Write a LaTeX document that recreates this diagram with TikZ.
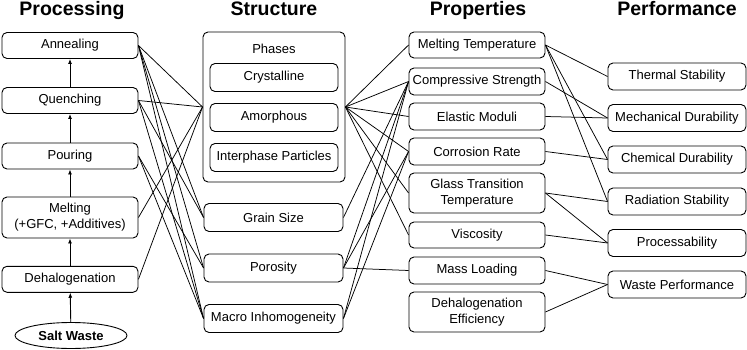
\documentclass[tikz,border=0pt]{standalone}
\usepackage{fontspec}
\setmainfont{Liberation Sans}
\usetikzlibrary{arrows.meta,shapes.geometric}
\begin{document}
\begin{tikzpicture}[x=1pt,y=-1pt,
  box/.style={draw,rounded corners=5pt,line width=0.9pt,inner sep=0pt,align=center,
    font=\fontsize{13}{16}\selectfont},
  hdr/.style={anchor=base,font=\fontsize{19.5}{22}\selectfont\bfseries},
  link/.style={line width=0.75pt},
  up/.style={line width=0.9pt,-{Latex[length=5pt,width=4pt]}}]
\useasboundingbox (0,0) rectangle (747,350);
% headers
\node[hdr] (h1) at (72,15.5) {Processing};
\node[hdr] (h2) at (274,15.5) {Structure};
\node[hdr] (h3) at (478,15.5) {Properties};
\node[hdr] (h4) at (677,15.5) {Performance};
% processing
\tikzset{pc/.style={box,minimum width=136pt,minimum height=26pt}}
\node[pc] (ann) at (70,45.5) {Annealing};
\node[pc] (que) at (70,100.5) {Quenching};
\node[pc] (pou) at (70,156) {Pouring};
\node[pc,minimum height=41pt] (mel) at (70,217.5) {Melting\\(+GFC, +Additives)};
\node[pc] (deh) at (70,279.3) {Dehalogenation};
\node[draw,ellipse,line width=0.9pt,minimum width=112pt,minimum height=26pt,inner sep=0pt,
  font=\fontsize{13}{16}\selectfont\bfseries] (salt) at (71,335.5) {Salt Waste};
\draw[up] (salt) -- (deh);
\draw[up] (deh) -- (mel);
\draw[up] (mel) -- (pou);
\draw[up] (pou) -- (que);
\draw[up] (que) -- (ann);
% structure
\node[box,minimum width=142pt,minimum height=150pt] (pha) at (274,107) {};
\node[font=\fontsize{13}{16}\selectfont] (phl) at (274,49) {Phases};
\tikzset{ic/.style={box,minimum width=128pt,minimum height=28pt}}
\node[ic] (cry) at (274,77.5) {Crystalline};
\node[ic] (amo) at (274,117.5) {Amorphous};
\node[ic] (int) at (274,157.5) {Interphase Particles};
\tikzset{sc/.style={box,minimum width=139pt,minimum height=28pt}}
\node[sc] (gra) at (273.5,217.5) {Grain Size};
\node[sc] (por) at (273.5,268) {Porosity};
\node[sc] (mac) at (273.5,318.5) {Macro Inhomogeneity};
% properties
\tikzset{rc/.style={box,minimum width=136pt,minimum height=27pt}}
\node[rc,minimum height=26pt] (mt) at (477,45) {Melting Temperature};
\node[rc] (cs) at (477,81.5) {Compressive Strength};
\node[rc] (em) at (477,116.5) {Elastic Moduli};
\node[rc] (cr) at (477,151.5) {Corrosion Rate};
\node[rc,minimum height=40pt] (gt) at (477,193) {Glass Transition\\Temperature};
\node[rc,minimum height=26pt] (vi) at (477,235) {Viscosity};
\node[rc] (ml) at (477,270.5) {Mass Loading};
\node[rc,minimum height=40pt] (de) at (477,312) {Dehalogenation\\Efficiency};
% performance
\tikzset{fc/.style={box,minimum width=138pt,minimum height=27pt}}
\node[fc] (ts) at (677,76.5) {Thermal Stability};
\node[fc] (md) at (677,118) {Mechanical Durability};
\node[fc] (cd) at (677,159.5) {Chemical Durability};
\node[fc] (rs) at (677,201.5) {Radiation Stability};
\node[fc] (pr) at (677,243) {Processability};
\node[fc] (wp) at (677,284.5) {Waste Performance};
% processing -> structure
\foreach \s/\t in {ann/pha,ann/gra,ann/por,ann/mac,que/pha,que/gra,que/mac,pou/por,pou/mac,mel/pha,deh/pha}
  \draw[link] (\s.east) -- (\t.west);
% structure -> properties
\foreach \s/\t in {pha/mt,pha/cs,pha/em,pha/cr,pha/gt,pha/vi,gra/cs,por/cs,por/cr,por/ml,mac/cs,mac/cr}
  \draw[link] (\s.east) -- (\t.west);
% properties -> performance
\foreach \s/\t in {mt/ts,mt/cd,mt/rs,cs/md,em/md,cr/cd,gt/rs,gt/pr,vi/pr,ml/wp,de/wp}
  \draw[link] (\s.east) -- (\t.west);
\end{tikzpicture}
\end{document}
